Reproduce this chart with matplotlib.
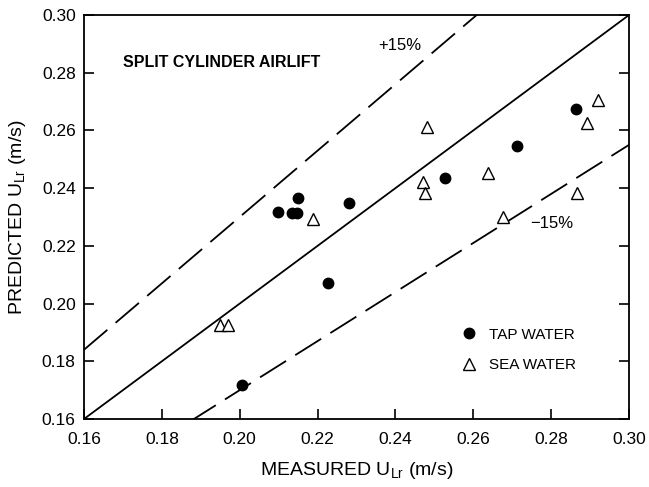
import numpy as np
import matplotlib
matplotlib.use("Agg")
import matplotlib.pyplot as plt
from matplotlib.lines import Line2D

plt.rcParams['font.family'] = ['Liberation Sans', 'DejaVu Sans']
plt.rcParams['mathtext.fontset'] = 'custom'
plt.rcParams['mathtext.rm'] = 'Liberation Sans'
plt.rcParams['mathtext.default'] = 'regular'

# tap water (measured, predicted)
tap_x = [0.2006, 0.2099, 0.2135, 0.2146, 0.2149, 0.2228, 0.2282, 0.2527, 0.2711, 0.2863]
tap_y = [0.1719, 0.2318, 0.2315, 0.2315, 0.2367, 0.2070, 0.2347, 0.2436, 0.2547, 0.2675]

# sea water
sea_x = [0.1949, 0.1971, 0.2189, 0.2472, 0.2476, 0.2480, 0.2637, 0.2676, 0.2867, 0.2893, 0.2920]
sea_y = [0.1926, 0.1926, 0.2292, 0.2422, 0.2382, 0.2613, 0.2454, 0.2301, 0.2384, 0.2627, 0.2705]

ticks = [0.16, 0.18, 0.20, 0.22, 0.24, 0.26, 0.28, 0.30]

fig = plt.figure(figsize=(6.49, 4.87), dpi=100)
ax = fig.add_axes([0.1294, 0.1396, 0.8398, 0.8296])

# parity line and +/-15% bands
xl = np.array([0.16, 0.30])
ax.plot(xl, xl, color='black', lw=1.3)
ax.plot(xl, 1.15 * xl, color='black', lw=1.3, dashes=(17, 6))
ax.plot(xl, 0.85 * xl, color='black', lw=1.3, dashes=(17, 6))

ax.plot(tap_x, tap_y, 'o', color='black', ms=7.5, ls='none')
ax.plot(sea_x, sea_y, '^', mfc='white', mec='black', mew=1.0, ms=8, ls='none')

ax.set_xlim(0.16, 0.30)
ax.set_ylim(0.16, 0.30)
ax.set_xticks(ticks)
ax.set_yticks(ticks)
ax.set_xticklabels(['%.2f' % t for t in ticks])
ax.set_yticklabels(['%.2f' % t for t in ticks])
ax.tick_params(direction='in', length=7, width=1.2, labelsize=12.5,
               right=True, top=False, pad=6)
ax.tick_params(axis='x', pad=9)
for s in ax.spines.values():
    s.set_linewidth(1.3)

ax.set_xlabel(r'MEASURED U$_{Lr}$ (m/s)', fontsize=14, labelpad=10)
ax.set_ylabel(r'PREDICTED U$_{Lr}$ (m/s)', fontsize=14, labelpad=10)

ax.text(0.170, 0.2837, 'SPLIT CYLINDER AIRLIFT', fontsize=11.5, fontweight='bold',
        va='center', ha='left')
ax.text(0.2355, 0.2895, '+15%', fontsize=12, va='center', ha='left')
ax.text(0.2746, 0.2279, '\u221215%', fontsize=12, va='center', ha='left')

handles = [
    Line2D([], [], marker='o', color='black', ls='none', ms=7.5),
    Line2D([], [], marker='^', mfc='white', mec='black', mew=1.0, ls='none', ms=8),
]
ax.legend(handles, ['TAP WATER', 'SEA WATER'], loc='upper left',
          bbox_to_anchor=(0.678, 0.245), frameon=False, fontsize=11,
          handlelength=1.0, handletextpad=0.8, labelspacing=1.1, borderpad=0)

fig.savefig('out.png', dpi=100)
